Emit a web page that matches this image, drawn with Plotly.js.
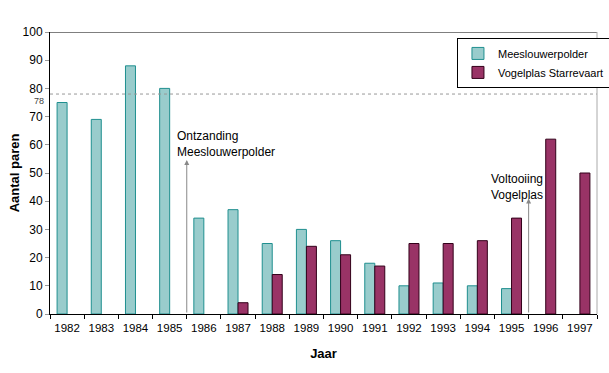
<!DOCTYPE html>
<html>
<head>
<meta charset="utf-8">
<script src="https://cdn.plot.ly/plotly-3.0.1.min.js"></script>
<style>html,body{margin:0;padding:0;background:#fff;}#chart{width:609px;height:373px;}</style>
</head>
<body>
<div id="chart"></div>
<script>
var years = ['1982','1983','1984','1985','1986','1987','1988','1989','1990','1991','1992','1993','1994','1995','1996','1997'];
var meeslouwer = [75, 69, 88, 80, 34, 37, 25, 30, 26, 18, 10, 11, 10, 9, null, null];
var vogelplas = [null, null, null, null, null, 4, 14, 24, 21, 17, 25, 25, 26, 34, 62, 50];
var referenceLevel = 78;
var yTicks = [0,10,20,30,40,50,60,70,80,90,100];

var FONT = '"Liberation Sans", Arial, sans-serif';

var traces = [
  {type:'bar', name:'Meeslouwerpolder', x:years, y:meeslouwer,
   marker:{color:'#99cccc', line:{color:'#1f8f8f', width:1}}},
  {type:'bar', name:'Vogelplas Starrevaart', x:years, y:vogelplas,
   marker:{color:'#993366', line:{color:'#33001a', width:1}}}
];

var layout = {
  width:609, height:373,
  margin:{l:50, r:12, t:32, b:59, autoexpand:false},
  paper_bgcolor:'#fff', plot_bgcolor:'#fff',
  font:{family:FONT, size:12, color:'#000'},
  barmode:'group', bargap:0.415, bargroupgap:0,
  showlegend:true,
  legend:{x:0.744, y:0.979, xanchor:'left', yanchor:'top',
    bordercolor:'#000', borderwidth:1, bgcolor:'#fff',
    font:{family:FONT, size:11}, tracegroupgap:0, itemwidth:30},
  xaxis:{type:'category', tickson:'boundaries', ticks:'outside', ticklen:4,
    tickcolor:'#000', showline:true, linecolor:'#000', linewidth:1, tickangle:0,
    ticklabelstandoff:3,
    showgrid:false, tickfont:{family:FONT, size:11.5}, automargin:false,
    title:{text:'<b>Jaar</b>', font:{family:FONT, size:13}, standoff:16}},
  yaxis:{range:[0,100], tickvals:yTicks, ticks:'outside', ticklen:4, tickcolor:'#999',
    showline:true, linecolor:'#000', linewidth:1, showgrid:false, zeroline:false,
    tickfont:{family:FONT, size:12}, automargin:false,
    title:{text:'<b>Aantal paren</b>', font:{family:FONT, size:13}, standoff:0}},
  shapes:[
    {type:'line', xref:'paper', yref:'y', x0:0, x1:1, y0:referenceLevel, y1:referenceLevel,
     line:{color:'#999', width:1, dash:'dot'}},
    {type:'line', xref:'paper', yref:'y', x0:0, x1:1, y0:100, y1:100,
     line:{color:'#000', width:1}},
    {type:'line', xref:'paper', yref:'paper', x0:1, x1:1, y0:0, y1:1,
     line:{color:'#aaa', width:1}}
  ],
  annotations:[
    {xref:'paper', yref:'y', x:-0.008, y:referenceLevel, xanchor:'right', yanchor:'top',
     text:'78', showarrow:false, font:{family:FONT, size:9, color:'#444'}},
    {xref:'x', yref:'y', axref:'x', ayref:'y', x:3.5, y:54.6, ax:3.5, ay:0,
     text:'', showarrow:true, arrowhead:2, arrowsize:1, arrowwidth:1, arrowcolor:'#888'},
    {xref:'x', yref:'y', axref:'x', ayref:'y', x:13.5, y:41, ax:13.5, ay:0,
     text:'', showarrow:true, arrowhead:2, arrowsize:1, arrowwidth:1, arrowcolor:'#888'},
    {xref:'paper', yref:'y', x:0.2285, y:66.3, xanchor:'left', yanchor:'top', align:'left',
     text:'Ontzanding<br>Meeslouwerpolder', showarrow:false, font:{family:FONT, size:12}},
    {xref:'paper', yref:'y', x:0.8026, y:51, xanchor:'left', yanchor:'top', align:'left',
     text:'Voltooiing<br>Vogelplas', showarrow:false, font:{family:FONT, size:12}}
  ]
};

Plotly.newPlot('chart', traces, layout, {displayModeBar:false, staticPlot:true});
</script>
</body>
</html>
